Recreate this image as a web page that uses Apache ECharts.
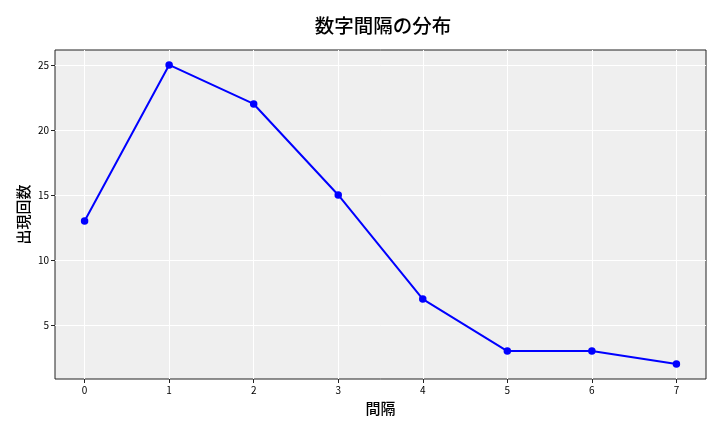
<!DOCTYPE html>
<html lang="ja">
<head>
  <meta charset="UTF-8">
  <title>数字間隔の分布</title>
  <script src="https://cdn.jsdelivr.net/npm/echarts@6/dist/echarts.min.js"></script>
  <style>
    html, body { margin: 0; padding: 0; background: #fff; }
    #chart { width: 720px; height: 432px; }
  </style>
</head>
<body>
  <div id="chart"></div>
  <script>
    // 間隔と出現回数
    const intervals = [0, 1, 2, 3, 4, 5, 6, 7];
    const counts = [13, 25, 22, 15, 7, 3, 3, 2];
    const yTicks = [5, 10, 15, 20, 25];

    const font = '"Noto Sans CJK JP", "DejaVu Sans", sans-serif';
    const chart = echarts.init(document.getElementById('chart'));

    const option = {
      animation: false,
      title: {
        text: '数字間隔の分布',
        left: 378,
        top: 11,
        textAlign: 'center',
        textStyle: { fontFamily: font, fontSize: 19.5, fontWeight: 500, color: '#000' }
      },
      grid: {
        left: 55, right: 14, top: 50, bottom: 53,
        show: true,
        backgroundColor: '#efefef',
        borderColor: '#222',
        borderWidth: 1
      },
      xAxis: {
        type: 'value',
        min: -0.35,
        max: 7.35,
        name: '間隔',
        nameLocation: 'middle',
        nameGap: 22,
        nameMoveOverlap: false,
        nameTextStyle: { fontFamily: font, fontSize: 15, fontWeight: 500, color: '#000' },
        axisLine: { show: false, onZero: false },
        axisTick: { show: true, length: 4, customValues: intervals, lineStyle: { color: '#222' } },
        axisLabel: { customValues: intervals, fontFamily: font, fontSize: 10, color: '#000', margin: 6 },
        splitLine: { show: true, lineStyle: { color: '#fff', width: 1 } }
      },
      yAxis: {
        type: 'value',
        min: 0.85,
        max: 26.15,
        name: '出現回数',
        nameLocation: 'middle',
        nameGap: 24,
        nameMoveOverlap: false,
        nameTextStyle: { fontFamily: font, fontSize: 15, fontWeight: 500, color: '#000' },
        axisLine: { show: false, onZero: false },
        axisTick: { show: true, length: 4, customValues: yTicks, lineStyle: { color: '#222' } },
        axisLabel: { customValues: yTicks, fontFamily: font, fontSize: 10, color: '#000', margin: 6 },
        splitLine: { show: true, lineStyle: { color: '#fff', width: 1 } }
      },
      series: [{
        type: 'line',
        data: intervals.map((x, i) => [x, counts[i]]),
        symbol: 'circle',
        symbolSize: 7.5,
        lineStyle: { color: '#0000ff', width: 2 },
        itemStyle: { color: '#0000ff' }
      }]
    };

    chart.setOption(option);
  </script>
</body>
</html>
